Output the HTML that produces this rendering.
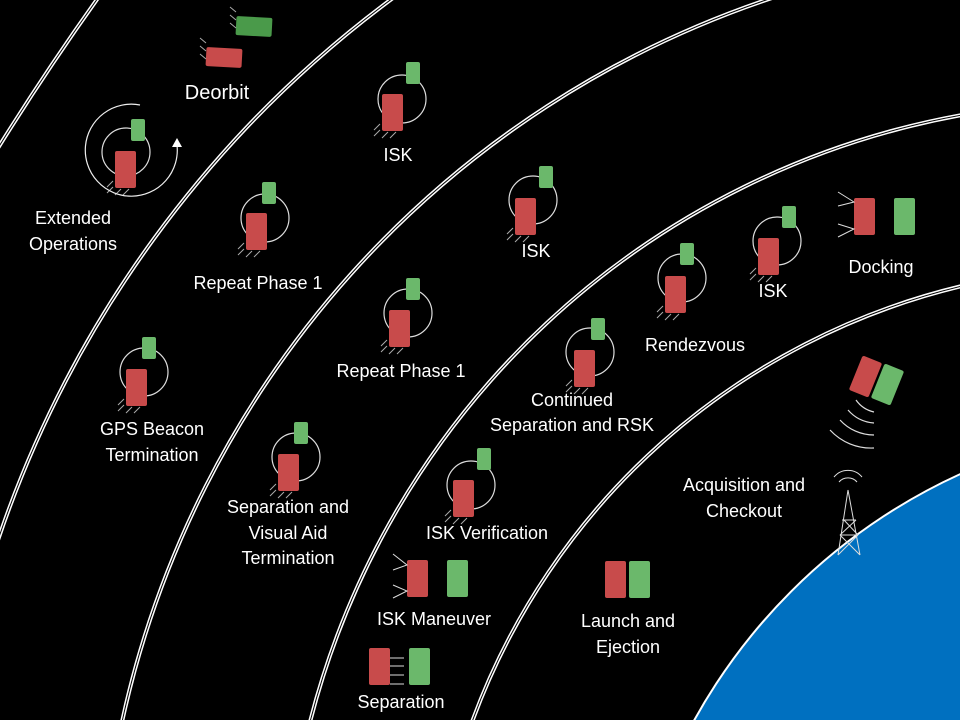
<!DOCTYPE html>
<html><head><meta charset="utf-8">
<style>
html,body{margin:0;padding:0;background:#000;width:960px;height:720px;overflow:hidden;}
svg{display:block;overflow:hidden;}
text{font-family:"Liberation Sans",sans-serif;fill:#fff;font-size:18px;text-anchor:middle;}
</style></head>
<body>
<svg id="s" width="960" height="720" viewBox="0 0 960 720">
<defs><clipPath id="frame"><rect width="960" height="720"/></clipPath></defs>
<g clip-path="url(#frame)">
<rect width="960" height="720" fill="#000"/>
<circle cx="1200" cy="1000" r="578" fill="#0070c0" stroke="#fff" stroke-width="2"/>
<g id="arcs"></g>
<g id="sats"></g>
<g id="labels"></g>
<g stroke="#ddd" stroke-width="1" fill="none">
<path d="M848 490 L838 555 M848 490 L860 555 M842 520 L856 520 M840 535 L858 535 M844 520 L858 535 M856 520 L840 535 M838 555 L858 535 M860 555 L840 535"/>
<path d="M839 482 A12 12 0 0 1 857 482 M834 477 A18 18 0 0 1 862 477"/>
</g>
<g stroke="#ddd" stroke-width="1.2" fill="none">
<path d="M856 400 A30 30 0 0 0 874 412"/>
<path d="M848 410 A38 38 0 0 0 874 423"/>
<path d="M840 420 A46 46 0 0 0 874 435"/>
<path d="M830 430 A56 56 0 0 0 874 448"/>
</g>
<g stroke="#eee" stroke-width="1.2" fill="none">
<path d="M140 105 A46 46 0 1 0 177 145"/>
</g>
<polygon points="177,138 172,147 182,147" fill="#fff"/>
</g>
</svg>
<script>
const NS="http://www.w3.org/2000/svg";
function mk(tag,attrs,parent){const e=document.createElementNS(NS,tag);for(const k in attrs)e.setAttribute(k,attrs[k]);parent.appendChild(e);return e;}
function arc3(p){const [a,b,c]=p;const d=2*(a[0]*(b[1]-c[1])+b[0]*(c[1]-a[1])+c[0]*(a[1]-b[1]));
 const ux=((a[0]**2+a[1]**2)*(b[1]-c[1])+(b[0]**2+b[1]**2)*(c[1]-a[1])+(c[0]**2+c[1]**2)*(a[1]-b[1]))/d;
 const uy=((a[0]**2+a[1]**2)*(c[0]-b[0])+(b[0]**2+b[1]**2)*(a[0]-c[0])+(c[0]**2+c[1]**2)*(b[0]-a[0]))/d;
 const r=Math.hypot(a[0]-ux,a[1]-uy);
 const cr=(b[0]-a[0])*(c[1]-a[1])-(b[1]-a[1])*(c[0]-a[0]);
 return `M${a[0]} ${a[1]} A${r} ${r} 0 0 ${cr>0?1:0} ${c[0]} ${c[1]}`;}
const arcPts=[
 [[-2,148],[45,75],[98,-2]],
 [[-2,540],[153,240],[393,-2]],
 [[122,722],[383,240],[772,-2]],
 [[310,722],[480,393],[962,115]],
 [[472,722],[680,427],[962,286]]
];
const A=document.getElementById('arcs');
arcPts.forEach(p=>{
 const a=mk('path',{d:arc3(p),stroke:'#fff','stroke-width':4,fill:'none'},A);
 
 
 const b=mk('path',{d:arc3(p),stroke:'#000','stroke-width':1,fill:'none'},A);
 
 
});
const S=document.getElementById('sats');
const R="#c84b4b",G="#6bb86b";
function box(x,y,w,h,c,rot){const r=mk('rect',{x:x,y:y,width:w,height:h,rx:2,fill:c},S);if(rot)r.setAttribute('transform','rotate('+rot+' '+(x+w/2)+' '+(y+h/2)+')');return r;}
const orb=[[115,151,131,119,126,152],[382,94,406,62,402,99],[246,213,262,182,265,218],[515,198,539,166,533,200],[665,276,680,243,682,278],[758,238,782,206,777,241],[389,310,406,278,408,313],[574,350,591,318,590,352],[126,369,142,337,144,372],[278,454,294,422,296,457],[453,480,477,448,471,485]];
orb.forEach(o=>{
 const c=mk('circle',{cx:o[4],cy:o[5],r:24,fill:'none',stroke:'#ddd','stroke-width':1.2},S);
 
 
 box(o[0],o[1],21,37,R);box(o[2],o[3],14,22,G);
 const h=mk('path',{d:`M${o[0]-2} ${o[1]+30} l-6 6 M${o[0]-2} ${o[1]+36} l-6 6 M${o[0]+6} ${o[1]+38} l-6 6 M${o[0]+14} ${o[1]+38} l-6 6`,stroke:'#aaa','stroke-width':1},S);
 
 
});
[[854,198,894,198],[407,560,447,560],[605,561,629,561],[369,648,409,648]].forEach(p=>{box(p[0],p[1],21,37,R);box(p[2],p[3],21,37,G);});
const th=mk('path',{d:"M838 192 L854 202 L838 206 M838 224 L854 229 L838 237 M393 554 L407 565 L393 570 M393 585 L407 591 L393 598 M390 658 h14 M390 666 h14 M390 675 h14 M390 684 h14",stroke:'#ddd','stroke-width':1,fill:'none'},S);


box(236,17,36,19,"#4a9a4a",3);box(206,48,36,19,R,3);
const dp=mk('path',{d:"M236 12 l-6 -5 M236 20 l-6 -5 M236 28 l-6 -5 M206 43 l-6 -5 M206 51 l-6 -5 M206 59 l-6 -5",stroke:'#aaa','stroke-width':1},S);


box(855,358,21,37,R,22);box(877,366,21,37,G,22);
const L=document.getElementById('labels');
const labels=[["Deorbit",217,99,20],["Extended",73,224],["Operations",73,250],["ISK",398,161],["Repeat Phase 1",258,289],["ISK",536,257],["ISK",773,297],["Docking",881,273],["Rendezvous",695,351],["Repeat Phase 1",401,377],["Continued",572,406],["Separation and RSK",572,431],["GPS Beacon",152,435],["Termination",152,461],["Acquisition and",744,491],["Checkout",744,517],["Separation  and",288,513],["Visual Aid",288,539],["Termination",288,564],["ISK Verification",487,539],["ISK Maneuver",434,625],["Launch and",628,627],["Ejection",628,653],["Separation",401,708]];
labels.forEach(l=>{
 const t=mk('text',{x:l[1],y:l[2]},L);
 if(l[3])t.setAttribute('style','font-size:'+l[3]+'px');
 t.textContent=l[0];
 
 
});
</script>
</body></html>
